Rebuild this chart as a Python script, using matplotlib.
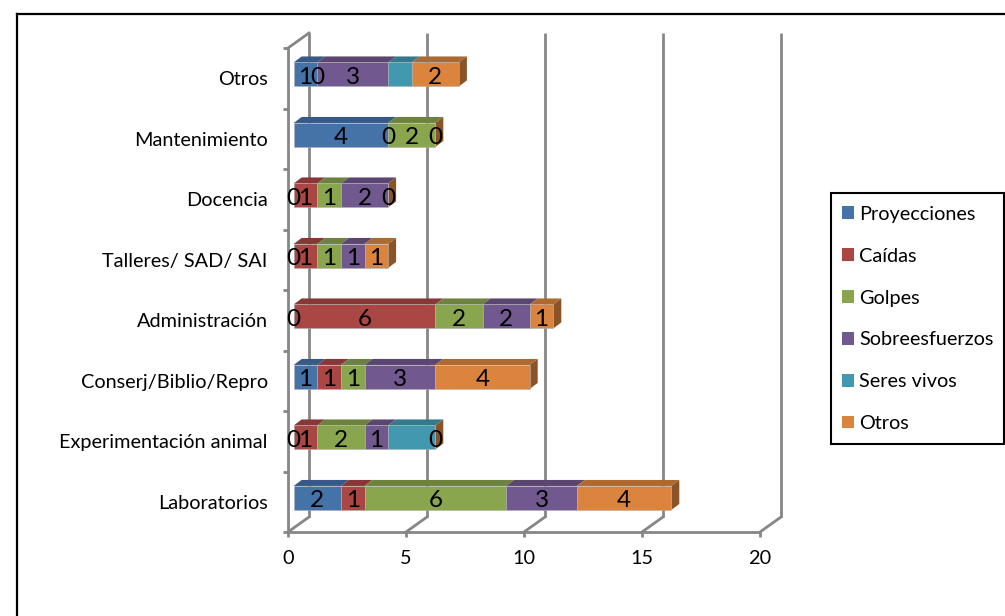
import matplotlib
matplotlib.use("Agg")
import matplotlib.pyplot as plt
from matplotlib.patches import Polygon, Rectangle
from matplotlib.lines import Line2D
from matplotlib.transforms import Affine2D
import numpy as np

categories = ["Laboratorios", "Experimentación animal", "Conserj/Biblio/Repro", "Administración",
              "Talleres/ SAD/ SAI", "Docencia", "Mantenimiento", "Otros"]
series_names = ["Proyecciones", "Caídas", "Golpes", "Sobreesfuerzos", "Seres vivos", "Otros"]
proyecciones = [2, 0, 1, 0, 0, 0, 4, 1]
caidas = [1, 1, 1, 6, 1, 1, 0, 0]
golpes = [6, 2, 1, 2, 1, 1, 2, 0]
sobreesfuerzos = [3, 1, 3, 2, 1, 2, 0, 3]
seres_vivos = [0, 2, 0, 0, 0, 0, 0, 1]
otros = [4, 0, 4, 1, 1, 0, 0, 2]
series_values = [proyecciones, caidas, golpes, sobreesfuerzos, seres_vivos, otros]
# which values carry a printed label in the reference
labelled = [
    [1, 1, 1, 1, 1, 1, 1, 1],
    [1, 1, 1, 1, 1, 1, 1, 1],
    [1, 1, 1, 1, 1, 1, 1, 0],
    [1, 1, 1, 1, 1, 1, 0, 1],
    [0, 0, 0, 0, 0, 0, 0, 0],
    [1, 1, 1, 1, 1, 1, 1, 1],
]
face_colors = ["#4572A7", "#AA4643", "#89A54E", "#71588F", "#4198AF", "#DB843D"]
top_colors = ["#365A85", "#863736", "#6D823E", "#5A4671", "#337A8C", "#AD6A30"]
side_color = "#8A5428"
x_ticks = [0, 5, 10, 15, 20]

W, H = 1005, 616
GRID = "#868686"
FONT = "Lato"
plt.rcParams["font.family"] = [FONT, "DejaVu Sans"]

fig = plt.figure(figsize=(W / 100, H / 100), dpi=100, facecolor="white")
ax = fig.add_axes([288 / W, (H - 532) / H, 472 / W, 484 / H])
ax.set_xlim(0, 20)
ax.set_ylim(-0.5, 7.5)
ax.patch.set_visible(False)
for s in ax.spines.values():
    s.set_visible(False)

px_x = 472 / 20
px_y = 484 / 8
back = ax.transData + Affine2D().translate(21, 15)
front = ax.transData + Affine2D().translate(5.7, 3.8)
front_text = ax.transData + Affine2D().translate(5.7, 3.0)

# walls and floor
lw = 2.0
for t in x_ticks:
    ax.plot([t, t], [-0.5, 7.5], transform=back, color=GRID, lw=lw, clip_on=False, zorder=1, solid_capstyle="butt")
    ax.plot([t, t + 21 / px_x], [-0.5, -0.5 + 15 / px_y], color=GRID, lw=lw, clip_on=False, zorder=1)
ax.plot([0, 20], [-0.5, -0.5], color=GRID, lw=lw, clip_on=False, zorder=1)
ax.plot([0, 0], [-0.5, 7.5], color=GRID, lw=lw, clip_on=False, zorder=1)
ax.plot([0, 21 / px_x], [7.5, 7.5 + 15 / px_y], color=GRID, lw=lw, clip_on=False, zorder=1)

# bars with their 3D faces
bar_h = 24 / px_y
dx3, dy3 = 8 / px_x, 6 / px_y
y_pos = np.arange(len(categories))
left = np.zeros(len(categories))
handles = []
for vals, name, fc, tc, flags in zip(series_values, series_names, face_colors, top_colors, labelled):
    vals = np.array(vals, dtype=float)
    bars = ax.barh(y_pos, vals, bar_h, left=left, color=fc, edgecolor="#B0B0B0", linewidth=0.4,
                   transform=front, zorder=3, clip_on=False, label=name)
    handles.append(bars)
    for yp, l, v, f in zip(y_pos, left, vals, flags):
        if v > 0:
            top = yp + bar_h / 2
            ax.add_patch(Polygon([[l, top], [l + v, top], [l + v + dx3, top + dy3], [l + dx3, top + dy3]],
                                 closed=True, facecolor=tc, edgecolor="none",
                                 transform=front, zorder=2.5, clip_on=False))
        if f:
            ax.text(l + v / 2, yp, f"{int(v)}", transform=front_text, ha="center", va="center_baseline",
                    fontsize=17.5, color="black", zorder=5, clip_on=False)
    left = left + vals
for yp, total in zip(y_pos, left):
    ax.add_patch(Polygon([[total, yp - bar_h / 2], [total + dx3, yp - bar_h / 2 + dy3],
                          [total + dx3, yp + bar_h / 2 + dy3], [total, yp + bar_h / 2]],
                         closed=True, facecolor=side_color, edgecolor="none",
                         transform=front, zorder=2.6, clip_on=False))

# axes ticks
ax.set_xticks(x_ticks)
ax.set_xticklabels([str(t) for t in x_ticks], fontsize=14.3, color="black")
ax.tick_params(axis="x", length=3.6, width=lw, color=GRID, pad=9.5)
ax.set_yticks(np.arange(-0.5, 8, 1))
ax.set_yticklabels([])
ax.tick_params(axis="y", which="major", length=3.6, width=lw, color=GRID)
ax.set_yticks(y_pos, minor=True)
ax.set_yticklabels(categories, minor=True, fontsize=14.3, color="black")
ax.tick_params(axis="y", which="minor", length=0, pad=14.5)

# outer frame: only the left and top edges show in the crop
fig.add_artist(Line2D([17 / W, 17 / W], [0, (H - 13.5) / H], color="black", lw=1.6, transform=fig.transFigure))
fig.add_artist(Line2D([17 / W, 1], [(H - 13.5) / H, (H - 13.5) / H], color="black", lw=1.6, transform=fig.transFigure))

# legend box and entries
fig.add_artist(Rectangle((831 / W, (H - 444) / H), 173 / W, 251 / H, transform=fig.transFigure,
                         facecolor="white", edgecolor="black", linewidth=1.5))
leg = fig.legend(handles=handles, labels=series_names, loc="upper left",
                 bbox_to_anchor=(831 / W, (H - 195) / H), bbox_transform=fig.transFigure,
                 fontsize=14.3, frameon=False,
                 borderpad=0.55, labelspacing=1.25, handlelength=0.62, handleheight=0.62,
                 handletextpad=0.24, borderaxespad=0)
for h in leg.legend_handles:
    h.set_edgecolor("none")

fig.savefig("out.png", dpi=100)
